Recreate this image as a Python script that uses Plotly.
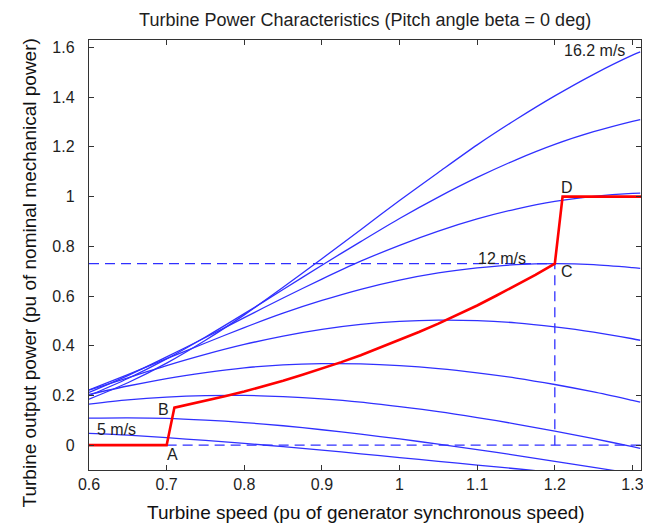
import plotly.graph_objects as go

# Turbine speed samples (pu)
OMEGA = [0.6, 0.65, 0.7, 0.75, 0.8, 0.85, 0.9, 0.95, 1.0, 1.05, 1.1, 1.15, 1.2, 1.25, 1.3, 1.31]

# Turbine output power (pu) read for each wind speed
P_16_2 = [0.185, 0.251, 0.330, 0.422, 0.524, 0.635, 0.750, 0.867, 0.984, 1.097, 1.208, 1.310, 1.405, 1.492, 1.569, 1.582]
P_14_8 = [0.199, 0.268, 0.347, 0.435, 0.529, 0.626, 0.724, 0.819, 0.912, 0.998, 1.077, 1.148, 1.210, 1.261, 1.303, 1.310]
P_13_4 = [0.212, 0.280, 0.355, 0.433, 0.513, 0.592, 0.668, 0.740, 0.804, 0.861, 0.910, 0.950, 0.981, 1.001, 1.013, 1.014]
P_12_0 = [0.222, 0.284, 0.348, 0.411, 0.473, 0.531, 0.582, 0.627, 0.664, 0.693, 0.713, 0.726, 0.730, 0.726, 0.714, 0.711]
P_10_6 = [0.221, 0.271, 0.320, 0.365, 0.405, 0.439, 0.466, 0.486, 0.498, 0.503, 0.501, 0.492, 0.476, 0.455, 0.428, 0.422]
P_9_2 = [0.204, 0.238, 0.268, 0.292, 0.311, 0.323, 0.328, 0.327, 0.320, 0.308, 0.291, 0.270, 0.244, 0.214, 0.180, 0.173]
P_7_8 = [0.165, 0.182, 0.193, 0.199, 0.200, 0.195, 0.186, 0.173, 0.155, 0.135, 0.111, 0.085, 0.056, 0.026, -0.006, -0.013]
P_6_4 = [0.109, 0.110, 0.108, 0.101, 0.091, 0.078, 0.062, 0.044, 0.025, 0.004, -0.018, -0.041, -0.065, -0.089, -0.114, -0.119]
OMEGA_5 = [0.6, 0.65, 0.7, 0.75, 0.8, 0.85, 0.9, 0.95, 1.0, 1.05, 1.1, 1.15, 1.2]
P_5_0 = [0.047, 0.040, 0.030, 0.019, 0.007, -0.006, -0.020, -0.035, -0.050, -0.065, -0.080, -0.095, -0.110]

# Tracking characteristic (red) A-B-C-D
TRACK_X = [0.6, 0.7, 0.71, 0.75, 0.775, 0.8, 0.825, 0.85, 0.875, 0.9, 0.925, 0.95, 0.975,
           1.0, 1.025, 1.05, 1.075, 1.1, 1.125, 1.15, 1.175, 1.2, 1.21, 1.311]
TRACK_Y = [0.0, 0.0, 0.151, 0.178, 0.197, 0.216, 0.237, 0.259, 0.283, 0.308, 0.334, 0.362, 0.392,
           0.422, 0.455, 0.489, 0.525, 0.562, 0.602, 0.642, 0.685, 0.730, 1.0, 1.0]

# Reference dashed lines
HDASH_X = [0.6, 1.2]
HDASH_Y = [0.73, 0.73]
VDASH_X = [1.2, 1.2]
VDASH_Y = [0.0, 0.73]
ZDASH_X = [0.7, 1.311]
ZDASH_Y = [0.0, 0.0]

X_RANGE = [0.6, 1.311]
Y_RANGE = [-0.1, 1.63]
X_TICKS = [0.6, 0.7, 0.8, 0.9, 1.0, 1.1, 1.2, 1.3]
Y_TICKS = [0, 0.2, 0.4, 0.6, 0.8, 1.0, 1.2, 1.4, 1.6]

BLUE = "#3030ff"
RED = "#ff0000"
FONT = "Liberation Sans, Arial, sans-serif"
TXT = "#1e1e1e"

fig = go.Figure()

curves = [P_16_2, P_14_8, P_13_4, P_12_0, P_10_6, P_9_2, P_7_8, P_6_4]
for ys in curves:
    fig.add_trace(go.Scatter(x=OMEGA, y=ys, mode="lines",
                             line=dict(color=BLUE, width=1.3, shape="spline", smoothing=0.8),
                             hoverinfo="skip", showlegend=False))
fig.add_trace(go.Scatter(x=OMEGA_5, y=P_5_0, mode="lines",
                         line=dict(color=BLUE, width=1.3, shape="spline", smoothing=0.8),
                         hoverinfo="skip", showlegend=False))

for xs, ys in [(HDASH_X, HDASH_Y), (VDASH_X, VDASH_Y), (ZDASH_X, ZDASH_Y)]:
    fig.add_trace(go.Scatter(x=xs, y=ys, mode="lines",
                             line=dict(color=BLUE, width=1.3, dash="10px,6px"),
                             hoverinfo="skip", showlegend=False))

fig.add_trace(go.Scatter(x=TRACK_X, y=TRACK_Y, mode="lines",
                         line=dict(color=RED, width=2.6),
                         hoverinfo="skip", showlegend=False))

labels = [
    ("16.2 m/s", 1.251, 1.588),
    ("12 m/s", 1.132, 0.75),
    ("5 m/s", 0.636, 0.064),
    ("A", 0.708, -0.036),
    ("B", 0.696, 0.145),
    ("C", 1.216, 0.698),
    ("D", 1.216, 1.036),
]
for txt, x, y in labels:
    fig.add_annotation(x=x, y=y, text=txt, showarrow=False,
                       font=dict(family=FONT, size=16, color=TXT),
                       xanchor="center", yanchor="middle")

# Axis titles
fig.add_annotation(xref="paper", yref="paper", x=0.501, y=-0.098,
                   text="Turbine speed (pu of generator synchronous speed)",
                   showarrow=False, xanchor="center", yanchor="middle",
                   font=dict(family=FONT, size=19, color="#111111"))
fig.add_annotation(xref="paper", yref="paper", x=-0.108, y=0.458, textangle=-90,
                   text="Turbine output power (pu of nominal mechanical power)",
                   showarrow=False, xanchor="center", yanchor="middle",
                   font=dict(family=FONT, size=19, color="#111111"))

axis_common = dict(
    showgrid=False, zeroline=False, showline=True, linecolor="#333333", linewidth=1.4,
    mirror="ticks", ticks="inside", ticklen=5, tickwidth=1.2, tickcolor="#333333",
    tickfont=dict(family=FONT, size=16, color=TXT),
)

fig.update_layout(
    width=651, height=528,
    margin=dict(l=81, r=18, t=32, b=66),
    paper_bgcolor="white", plot_bgcolor="white",
    title=dict(text="Turbine Power Characteristics (Pitch angle beta = 0 deg)",
               x=0.5486, xanchor="center", y=0.978, yanchor="middle",
               font=dict(family=FONT, size=18, color=TXT)),
    xaxis=dict(range=X_RANGE, tickvals=X_TICKS, ticklabelstandoff=0, **axis_common),
    yaxis=dict(range=Y_RANGE, tickvals=Y_TICKS, ticklabelstandoff=10, **axis_common),
)

fig.write_html("out.html")
